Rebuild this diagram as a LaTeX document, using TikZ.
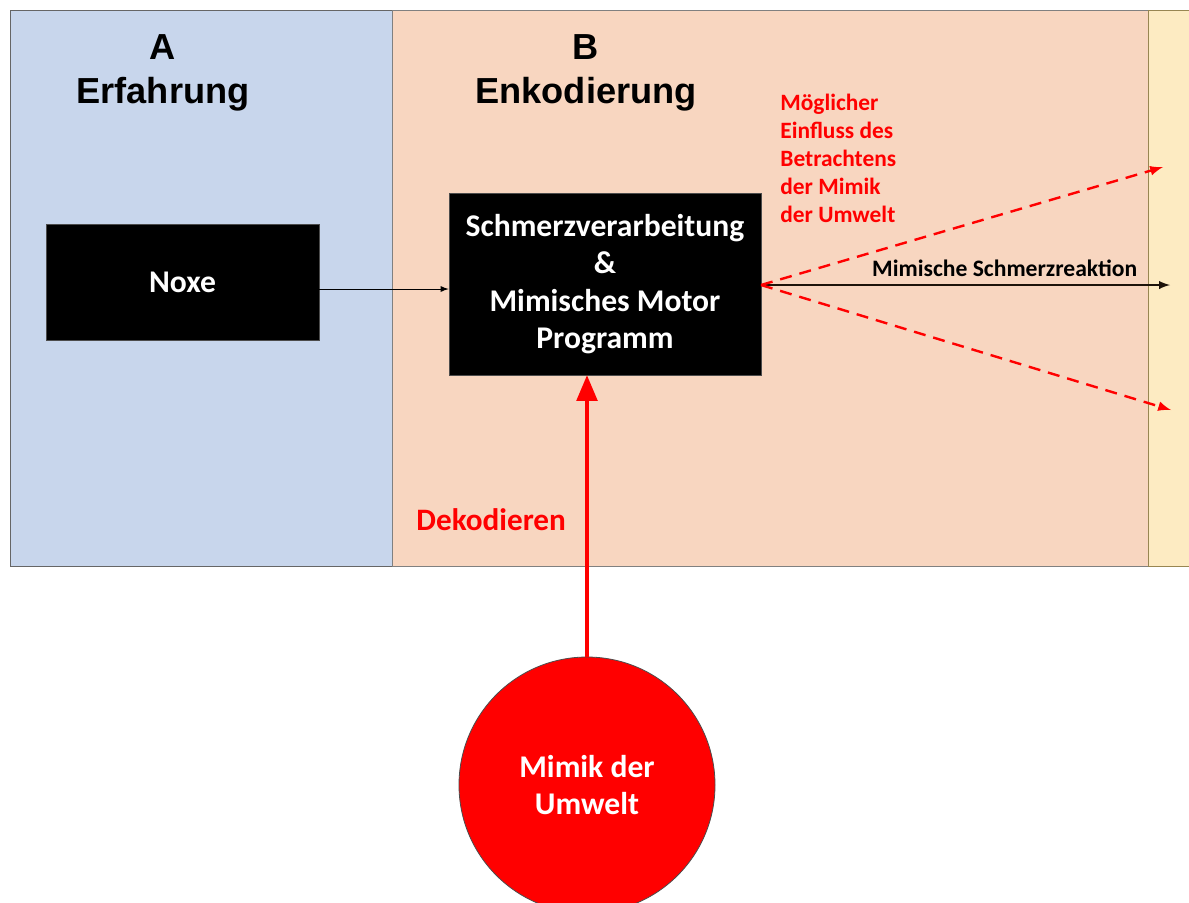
\documentclass[tikz,border=0pt]{standalone}
\usepackage{fontspec}
\setmainfont{Carlito}
\newfontfamily\headfont{Liberation Sans}
\usetikzlibrary{arrows,shapes,positioning}
\definecolor{erfblue}{RGB}{200,214,236}
\definecolor{enkpeach}{RGB}{248,214,192}
\definecolor{nextyellow}{RGB}{253,235,194}
\definecolor{mimred}{RGB}{255,0,0}
\begin{document}
\begin{tikzpicture}[x=0.5pt,y=-0.5pt]
                    \tikzstyle{blackbox}=[fill=black,draw=black!70,text=white,font=\bfseries\fontsize{15.8}{18.7}\selectfont,align=center,inner sep=0pt]
                    \tikzstyle{head}=[font=\headfont\bfseries\fontsize{18.1}{22}\selectfont,align=center,inner sep=0pt]
                    \tikzstyle{redtext}=[text=mimred,font=\bfseries\fontsize{11.7}{14}\selectfont,inner sep=0pt]
                    \tikzstyle{reddash}=[-latex,mimred,dash pattern=on 6pt off 4pt,line width=1.2pt]
                    \useasboundingbox (0,0) rectangle (1189,902);
                    \fill [white] (0,0) rectangle (1189,902);
                    % Felder
                    \draw [fill=erfblue,draw=black!60] (10,10) rectangle (392,566);
                    \draw [fill=enkpeach,draw=black!50] (392,10) rectangle (1148,566);
                    \draw [fill=nextyellow,draw=black!60!yellow!60!brown] (1148,10) rectangle (1195,566);
                    \node [head] (A) at (163,73) {A\\Erfahrung};
                    \node [head] (B) at (586,73) {B\\Enkodierung};
                    % Kaesten
                    \node [blackbox,minimum width=136.5pt,minimum height=58pt] (noxe) at (182.5,282) {Noxe};
                    \node [blackbox,minimum width=156pt,minimum height=91pt] (motor) at (605,284)
                          {\rule{0pt}{3pt}Schmerzverarbeitung\\\&\\Mimisches Motor\\Programm};
                    \node [circle,fill=mimred,draw=black!70,minimum size=128pt,text=white,align=center,
                           font=\bfseries\fontsize{15.8}{18.5}\selectfont] (umwelt) at (587,785) {Mimik der\\Umwelt};
                    \coordinate (out) at (761,285);
                    \coordinate (reakt) at (1170,285);
                    \coordinate (up) at (1163,167);
                    \coordinate (down) at (1171,410);
                    % Pfeile
                    \draw [-latex,black,thin] (noxe.east |- 0,289) -- (motor.west |- 0,289);
                    \draw [-latex,black!85!brown,line width=0.9pt] (out) -- (reakt)
                          node [pos=0.92,anchor=south east,inner sep=3.5pt,xshift=4pt,text=black,font=\bfseries\fontsize{11.8}{13}\selectfont] {Mimische Schmerzreaktion};
                    \draw [reddash] (out) -- (up);
                    \draw [reddash] (out) -- (down);
                    \draw [-triangle 45,mimred,line width=2pt] (umwelt.north) -- (umwelt.north |- motor.south);
                    \node [redtext,align=left,anchor=north west] (einfluss) at (780,94)
                          {M\"oglicher\\Einfluss des\\Betrachtens\\der Mimik\\der Umwelt};
                    \node [redtext,font=\bfseries\fontsize{15.6}{17}\selectfont,anchor=west] (dekod) at (416,520) {Dekodieren};
                \end{tikzpicture}
\end{document}
